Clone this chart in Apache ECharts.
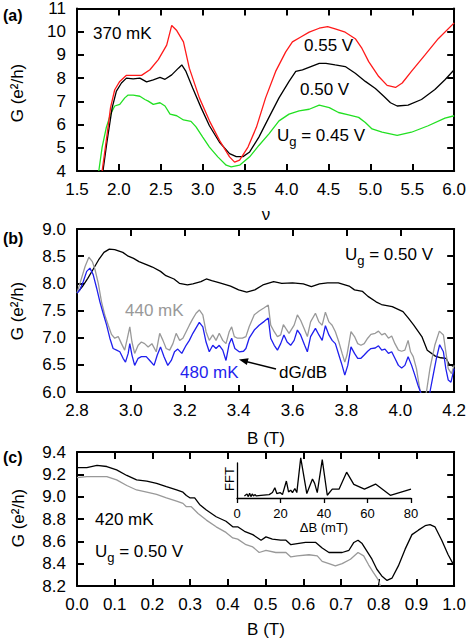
<!DOCTYPE html>
<html>
<head>
<meta charset="utf-8">
<title>G vs filling factor and field</title>
<script src="https://cdn.jsdelivr.net/npm/echarts@6.0.0/dist/echarts.min.js"></script>
<style>
  html, body { margin: 0; padding: 0; background: #fff; }
  #chart { width: 469px; height: 640px; }
</style>
</head>
<body>
<div id="chart"></div>
<script>
// ---- panel (a): G vs filling factor nu, 370 mK ----
const aNu055 = [1.80, 1.86, 1.90, 1.95, 2.01, 2.09, 2.17, 2.27, 2.37, 2.47, 2.57, 2.63, 2.69, 2.77, 2.84, 2.96, 3.08, 3.20, 3.32, 3.38, 3.44, 3.54, 3.64, 3.75, 3.87, 3.99, 4.07, 4.17, 4.27, 4.39, 4.49, 4.58, 4.70, 4.82, 4.90, 4.98, 5.10, 5.20, 5.30, 5.38, 5.49, 5.65, 5.81, 6.00]
const aG055 = [4.0, 5.6, 6.73, 7.5, 7.86, 8.12, 8.12, 8.12, 8.36, 8.8, 9.42, 10.27, 10.05, 9.56, 8.43, 7.15, 6.16, 5.32, 4.61, 4.38, 4.47, 5.03, 5.88, 7.15, 8.29, 9.13, 9.56, 9.77, 9.98, 10.15, 10.22, 10.12, 9.98, 9.7, 9.28, 8.71, 8.07, 7.69, 7.6, 7.79, 8.29, 8.99, 9.7, 10.38]

const aNu050 = [1.81, 1.86, 1.92, 1.97, 2.03, 2.09, 2.17, 2.25, 2.33, 2.41, 2.49, 2.55, 2.63, 2.71, 2.75, 2.80, 2.88, 2.98, 3.08, 3.20, 3.32, 3.40, 3.48, 3.56, 3.67, 3.79, 3.91, 4.03, 4.11, 4.19, 4.29, 4.39, 4.47, 4.58, 4.70, 4.82, 4.94, 5.06, 5.16, 5.24, 5.32, 5.45, 5.61, 5.77, 5.89, 6.00]
const aG050 = [4.0, 5.32, 6.73, 7.44, 7.79, 8.0, 7.97, 8.0, 7.84, 7.93, 8.03, 7.95, 8.14, 8.43, 8.57, 8.29, 7.58, 6.73, 5.95, 5.24, 4.75, 4.62, 4.62, 4.82, 5.46, 6.31, 7.15, 7.86, 8.29, 8.36, 8.5, 8.64, 8.64, 8.57, 8.5, 8.21, 7.86, 7.55, 7.22, 6.94, 6.8, 6.84, 7.08, 7.51, 7.93, 8.36]

const aNu045 = [1.76, 1.80, 1.85, 1.90, 1.95, 2.01, 2.07, 2.11, 2.17, 2.25, 2.31, 2.35, 2.41, 2.49, 2.55, 2.61, 2.69, 2.77, 2.86, 2.92, 3.00, 3.08, 3.18, 3.28, 3.34, 3.44, 3.56, 3.67, 3.79, 3.91, 4.03, 4.15, 4.27, 4.39, 4.51, 4.62, 4.74, 4.86, 4.94, 5.02, 5.14, 5.32, 5.49, 5.69, 5.89, 6.00]
const aG045 = [4.0, 5.03, 5.88, 6.45, 6.8, 6.87, 7.15, 7.27, 7.27, 7.22, 7.08, 7.01, 6.87, 6.94, 6.8, 6.45, 6.38, 6.2, 6.14, 5.9, 5.46, 5.03, 4.61, 4.25, 4.18, 4.25, 4.61, 5.1, 5.6, 6.16, 6.45, 6.59, 6.66, 6.84, 6.73, 6.52, 6.42, 6.31, 6.09, 5.81, 5.67, 5.53, 5.67, 5.95, 6.28, 6.38]

// ---- panel (b): G vs B, Ug = 0.50 V, [B (T), G (e^2/h)] ----
const bDGdB = [[2.80, 7.82], [2.82, 7.94], [2.84, 8.09], [2.86, 8.26], [2.88, 8.43], [2.90, 8.57], [2.92, 8.63], [2.94, 8.62], [2.97, 8.57], [2.99, 8.5], [3.01, 8.46], [3.03, 8.4], [3.06, 8.34], [3.08, 8.30], [3.11, 8.22], [3.13, 8.14], [3.16, 8.08], [3.18, 8.0], [3.21, 7.97], [3.23, 7.99], [3.26, 8.03], [3.28, 8.08], [3.30, 8.05], [3.33, 8.01], [3.37, 7.95], [3.40, 7.88], [3.43, 7.84], [3.46, 7.88], [3.49, 7.97], [3.53, 8.03], [3.56, 8.0], [3.60, 8.01], [3.64, 7.99], [3.67, 7.94], [3.70, 7.99], [3.73, 8.01], [3.77, 8.01], [3.81, 7.95], [3.83, 7.88], [3.86, 7.85], [3.88, 7.76], [3.91, 7.66], [3.93, 7.61], [3.97, 7.57], [4.01, 7.48], [4.03, 7.36], [4.05, 7.23], [4.08, 7.02], [4.10, 6.77], [4.13, 6.66], [4.15, 6.63], [4.17, 6.62], [4.18, 6.52], [4.20, 6.46]]

const b440mK = [[2.80, 7.82], [2.811, 8.0], [2.83, 8.31], [2.844, 8.48], [2.857, 8.40], [2.867, 8.25], [2.879, 8.0], [2.891, 7.66], [2.903, 7.42], [2.916, 7.23], [2.928, 7.06], [2.94, 6.99], [2.953, 7.02], [2.965, 6.89], [2.977, 6.77], [2.987, 6.99], [2.996, 7.20], [3.004, 6.92], [3.014, 6.71], [3.027, 6.86], [3.039, 6.92], [3.051, 6.89], [3.064, 6.83], [3.078, 6.89], [3.094, 6.74], [3.107, 7.08], [3.119, 6.95], [3.131, 6.80], [3.144, 6.77], [3.156, 6.89], [3.168, 7.08], [3.181, 6.95], [3.193, 6.99], [3.205, 7.11], [3.217, 7.23], [3.23, 7.35], [3.242, 7.45], [3.254, 7.51], [3.267, 7.42], [3.279, 7.11], [3.291, 6.95], [3.304, 7.05], [3.316, 6.95], [3.328, 7.08], [3.341, 6.95], [3.353, 6.89], [3.365, 7.11], [3.374, 7.20], [3.384, 7.02], [3.396, 6.99], [3.414, 6.99], [3.427, 7.02], [3.439, 7.20], [3.458, 7.42], [3.476, 7.49], [3.495, 7.55], [3.51, 7.6], [3.519, 7.23], [3.532, 7.11], [3.544, 7.02], [3.556, 7.05], [3.566, 7.24], [3.575, 7.17], [3.587, 7.08], [3.606, 7.23], [3.618, 7.42], [3.63, 7.32], [3.643, 7.17], [3.655, 7.02], [3.667, 7.29], [3.685, 7.45], [3.698, 7.29], [3.71, 7.23], [3.722, 7.47], [3.735, 7.29], [3.747, 7.23], [3.759, 7.11], [3.772, 6.92], [3.784, 6.71], [3.794, 6.55], [3.802, 6.68], [3.817, 7.11], [3.83, 7.02], [3.842, 6.89], [3.854, 6.86], [3.866, 6.89], [3.879, 6.99], [3.891, 7.06], [3.907, 7.08], [3.919, 7.12], [3.931, 7.05], [3.943, 7.08], [3.956, 6.99], [3.968, 7.03], [3.98, 6.89], [3.993, 6.77], [4.005, 6.75], [4.017, 6.77], [4.029, 6.95], [4.038, 6.74], [4.048, 6.65], [4.06, 6.43], [4.072, 6.06], [4.085, 5.8], [4.097, 6.0], [4.11, 6.43], [4.128, 6.86], [4.145, 7.12], [4.16, 7.05], [4.169, 6.74], [4.178, 6.43], [4.19, 6.34], [4.20, 6.49]]

const b480mK = [[2.80, 7.82], [2.811, 7.88], [2.823, 8.03], [2.836, 8.22], [2.848, 8.28], [2.86, 8.16], [2.873, 7.91], [2.885, 7.66], [2.897, 7.45], [2.91, 7.23], [2.922, 6.99], [2.934, 6.80], [2.947, 6.77], [2.959, 6.74], [2.971, 6.62], [2.98, 6.55], [2.99, 6.71], [2.996, 6.89], [3.004, 6.68], [3.014, 6.49], [3.027, 6.62], [3.039, 6.65], [3.057, 6.65], [3.07, 6.58], [3.086, 6.49], [3.098, 6.68], [3.11, 6.83], [3.123, 6.65], [3.137, 6.49], [3.15, 6.58], [3.162, 6.74], [3.174, 6.79], [3.189, 6.71], [3.205, 6.86], [3.217, 6.95], [3.23, 7.08], [3.242, 7.18], [3.254, 7.28], [3.267, 7.20], [3.279, 6.92], [3.291, 6.74], [3.304, 6.86], [3.316, 6.80], [3.328, 6.86], [3.341, 6.77], [3.353, 6.58], [3.365, 6.89], [3.374, 6.99], [3.386, 6.80], [3.402, 6.74], [3.418, 6.75], [3.427, 6.80], [3.439, 6.99], [3.458, 7.14], [3.476, 7.23], [3.495, 7.30], [3.51, 7.36], [3.519, 6.99], [3.532, 6.86], [3.544, 6.77], [3.556, 6.89], [3.568, 7.05], [3.58, 6.92], [3.593, 6.86], [3.606, 6.95], [3.618, 7.14], [3.63, 7.05], [3.645, 6.86], [3.655, 6.74], [3.667, 7.02], [3.685, 7.17], [3.698, 7.05], [3.71, 6.95], [3.722, 7.22], [3.735, 7.05], [3.747, 6.95], [3.759, 6.89], [3.772, 6.68], [3.784, 6.49], [3.794, 6.31], [3.805, 6.49], [3.817, 6.83], [3.83, 6.71], [3.842, 6.62], [3.854, 6.62], [3.866, 6.68], [3.879, 6.75], [3.891, 6.80], [3.907, 6.81], [3.919, 6.85], [3.931, 6.77], [3.943, 6.79], [3.956, 6.71], [3.968, 6.74], [3.98, 6.62], [3.993, 6.49], [4.005, 6.44], [4.017, 6.49], [4.029, 6.65], [4.042, 6.49], [4.054, 6.31], [4.066, 6.12], [4.075, 6.0], [4.085, 5.6], [4.10, 5.7], [4.11, 6.0], [4.122, 6.31], [4.134, 6.62], [4.146, 6.87], [4.16, 6.74], [4.169, 6.43], [4.178, 6.22], [4.188, 6.18], [4.20, 6.43]]

// ---- panel (c): G vs B, 420 mK ----
const cUpper = [[0.0, 9.26], [0.026, 9.26], [0.053, 9.28], [0.079, 9.27], [0.105, 9.24], [0.132, 9.19], [0.158, 9.15], [0.185, 9.14], [0.211, 9.12], [0.237, 9.09], [0.264, 9.06], [0.281, 9.04], [0.29, 9.01], [0.299, 8.99], [0.312, 8.99], [0.325, 8.93], [0.343, 8.88], [0.369, 8.82], [0.395, 8.78], [0.413, 8.73], [0.426, 8.73], [0.444, 8.69], [0.466, 8.66], [0.488, 8.61], [0.501, 8.64], [0.518, 8.62], [0.54, 8.61], [0.554, 8.61], [0.567, 8.57], [0.584, 8.58], [0.606, 8.59], [0.633, 8.59], [0.65, 8.54], [0.668, 8.50], [0.685, 8.50], [0.703, 8.50], [0.721, 8.52], [0.734, 8.59], [0.745, 8.61], [0.756, 8.58], [0.769, 8.51], [0.782, 8.44], [0.795, 8.35], [0.808, 8.29], [0.822, 8.25], [0.835, 8.27], [0.852, 8.38], [0.87, 8.53], [0.888, 8.66], [0.905, 8.70], [0.923, 8.74], [0.936, 8.75], [0.949, 8.73], [0.967, 8.61], [0.984, 8.48], [1.0, 8.38]]

const cLower = [[0.0, 9.17], [0.026, 9.18], [0.053, 9.18], [0.079, 9.18], [0.105, 9.15], [0.132, 9.10], [0.158, 9.06], [0.185, 9.04], [0.211, 9.02], [0.237, 8.99], [0.264, 8.96], [0.281, 8.94], [0.29, 8.91], [0.303, 8.91], [0.321, 8.85], [0.343, 8.79], [0.369, 8.73], [0.395, 8.68], [0.413, 8.63], [0.426, 8.62], [0.448, 8.57], [0.466, 8.55], [0.483, 8.50], [0.501, 8.52], [0.527, 8.50], [0.554, 8.50], [0.567, 8.46], [0.584, 8.47], [0.615, 8.48], [0.637, 8.47], [0.65, 8.42], [0.668, 8.40], [0.685, 8.38], [0.703, 8.40], [0.725, 8.44], [0.745, 8.50], [0.76, 8.47], [0.773, 8.39], [0.786, 8.32], [0.798, 8.26], [0.804, 8.2]]

// inset: FFT amplitude (arb. units) vs period dB (mT)
const cFFT = [[3.4, 0.06], [4.6, 0.12], [5.2, 0.04], [5.8, 0.14], [6.4, 0.04], [7.0, 0.12], [7.6, 0.06], [8.2, 0.10], [8.9, 0.06], [11, 0.08], [14.8, 0.10], [16.3, 0.16], [17.4, 0.30], [18.3, 0.13], [19.8, 0.16], [20.9, 0.10], [22.7, 0.50], [23.7, 0.18], [24.7, 0.23], [25.5, 0.16], [26.6, 0.28], [27.5, 0.16], [29.3, 1.18], [32.1, 0.13], [34.7, 0.56], [35.7, 0.43], [36.9, 0.16], [39.2, 1.13], [41.5, 0.08], [43.8, 0.26], [46.9, 0.26], [50.4, 0.76], [53.7, 0.40], [58.6, 0.26], [63.7, 0.41], [70.5, 0.08], [80, 0.26]]

const FONT = '"Liberation Sans", Arial, Helvetica, sans-serif'
const INK = '#000'
const FS = 17

const chart = echarts.init(document.getElementById('chart'), null, { renderer: 'svg' })

const frameLine = { show: true, onZero: false, lineStyle: { color: '#000', width: 2 } }
const frameTick = { show: true, inside: true, length: 7, lineStyle: { color: '#000', width: 2 } }

function xAxes(grid, min, max, step, digits) {
  const base = {
    type: 'value', gridIndex: grid, min: min, max: max, interval: step,
    axisLine: frameLine, axisTick: frameTick, splitLine: { show: false }
  }
  return [
    Object.assign({}, base, {
      position: 'bottom',
      axisLabel: { color: INK, fontSize: FS, fontFamily: FONT, margin: 10, formatter: v => v.toFixed(digits) }
    }),
    Object.assign({}, base, { position: 'top', axisLabel: { show: false } })
  ]
}

function yAxes(grid, min, max, step, digits) {
  const base = {
    type: 'value', gridIndex: grid, min: min, max: max, interval: step,
    axisLine: frameLine, axisTick: frameTick, splitLine: { show: false }
  }
  return [
    Object.assign({}, base, {
      position: 'left',
      axisLabel: { color: INK, fontSize: FS, fontFamily: FONT, margin: 11, formatter: v => v.toFixed(digits) }
    }),
    Object.assign({}, base, { position: 'right', axisLabel: { show: false } })
  ]
}

const zip = (xs, ys) => xs.map((x, i) => [x, ys[i]])

function curve(axisIdx, data, color, width) {
  return {
    type: 'line', xAxisIndex: axisIdx, yAxisIndex: axisIdx, data: data,
    showSymbol: false, symbol: 'none', animation: false,
    lineStyle: { color: color, width: width || 1.3 }
  }
}

function txt(x, y, text, extra) {
  return {
    type: 'text', x: x, y: y, z: 100,
    style: Object.assign({ text: text, fontFamily: FONT, fontSize: FS, fill: INK, align: 'left', verticalAlign: 'middle' }, extra || {})
  }
}

// "U_g = ..." label built from three pieces
function ugLabel(x, y, rest) {
  return [
    txt(x, y, 'U'),
    txt(x + 12.3, y + 6, 'g', { fontSize: 13 }),
    txt(x + 19.5, y, ' ' + rest)
  ]
}

const yNames = [[17, 93], [17, 311], [18, 518]].map(p => ({
  type: 'text', x: p[0], y: p[1], rotation: Math.PI / 2, z: 100,
  style: { text: 'G (e²/h)', fontFamily: FONT, fontSize: FS, fill: INK, align: 'center', verticalAlign: 'middle' }
}))

const option = {
  backgroundColor: '#fff',
  animation: false,
  grid: [
    { left: 77, top: 6, width: 379, height: 165 },
    { left: 77, top: 229, width: 379, height: 163 },
    { left: 77, top: 452, width: 379, height: 134 },
    { left: 237, top: 463, width: 174, height: 35 }
  ],
  xAxis: [
    ...xAxes(0, 1.5, 6.0, 0.5, 1),
    ...xAxes(1, 2.8, 4.2, 0.2, 1),
    ...xAxes(2, 0.0, 1.0, 0.1, 1),
    {
      type: 'value', gridIndex: 3, min: 0, max: 80, interval: 20, position: 'bottom',
      axisLine: { show: true, onZero: false, lineStyle: { color: '#000', width: 1.3 } },
      axisTick: { show: true, inside: false, length: 5, lineStyle: { color: '#000', width: 1.3 } },
      splitLine: { show: false },
      axisLabel: { color: INK, fontSize: 13, fontFamily: FONT, margin: 9 }
    }
  ],
  yAxis: [
    ...yAxes(0, 4, 11, 1, 0),
    ...yAxes(1, 6.0, 9.0, 0.5, 1),
    ...yAxes(2, 8.2, 9.4, 0.2, 1),
    {
      type: 'value', gridIndex: 3, min: 0, max: 1.03,
      axisLine: { show: true, onZero: false, lineStyle: { color: '#000', width: 1.3 } },
      axisTick: { show: false }, axisLabel: { show: false }, splitLine: { show: false }
    }
  ],
  series: [
    curve(0, zip(aNu045, aG045), '#22e022'),
    curve(0, zip(aNu050, aG050), '#000'),
    curve(0, zip(aNu055, aG055), '#ff1a1a'),
    curve(2, bDGdB, '#000'),
    curve(2, b440mK, '#999'),
    curve(2, b480mK, '#1f1fee'),
    curve(4, cLower, '#999'),
    curve(4, cUpper, '#000'),
    Object.assign(curve(6, cFFT, '#000', 1.3), { clip: false })
  ],
  graphic: [
    // panel labels
    txt(3, 15, '(a)', { fontWeight: 'bold', fontSize: 16 }),
    txt(3, 238, '(b)', { fontWeight: 'bold', fontSize: 16 }),
    txt(3, 457, '(c)', { fontWeight: 'bold', fontSize: 16 }),
    // axis names
    ...yNames,
    txt(266, 214, 'ν', { align: 'center' }),
    txt(266, 438, 'B (T)', { align: 'center' }),
    txt(266, 629, 'B (T)', { align: 'center' }),
    // panel (a) annotations
    txt(93, 33, '370 mK'),
    txt(304, 45, '0.55 V'),
    txt(300, 89, '0.50 V'),
    ...ugLabel(277, 135, '= 0.45 V'),
    // panel (b) annotations
    ...ugLabel(345, 254, '= 0.50 V'),
    txt(125, 310, '440 mK', { fill: '#999' }),
    txt(180, 372, '480 mK', { fill: '#1f1fee' }),
    txt(279, 372, 'dG/dB'),
    { type: 'line', z: 100, shape: { x1: 276, y1: 369, x2: 246, y2: 361.5 }, style: { stroke: '#000', lineWidth: 1.3 } },
    { type: 'polygon', z: 100, shape: { points: [[239, 359.5], [248.6, 358.3], [246.9, 365.1]] }, style: { fill: '#000' } },
    // panel (c) annotations
    txt(95, 519, '420 mK'),
    ...ugLabel(95, 551, '= 0.50 V'),
    txt(324, 527, 'ΔB (mT)', { align: 'center', fontSize: 13 }),
    {
      type: 'text', x: 229, y: 479, rotation: Math.PI / 2, z: 100,
      style: { text: 'FFT', fontFamily: FONT, fontSize: 13, fill: INK, align: 'center', verticalAlign: 'middle' }
    }
  ]
}

chart.setOption(option)
</script>
</body>
</html>
